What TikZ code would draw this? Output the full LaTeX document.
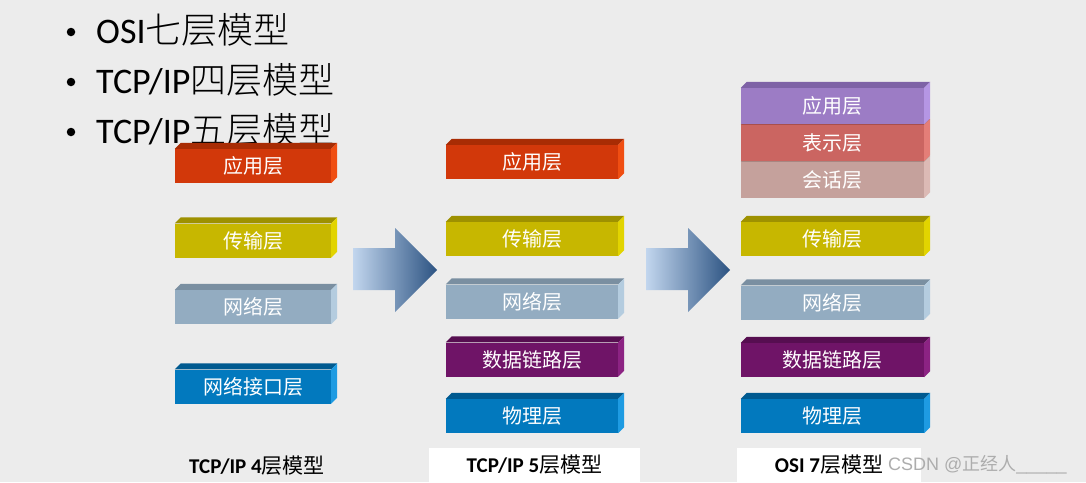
\documentclass[tikz,border=0pt]{standalone}
\usepackage{fontspec}
\setmainfont{Carlito}
\newfontfamily\cjk{Noto Sans CJK SC}
\newfontfamily\cjkl{Noto Sans CJK SC Light}
\newfontfamily\wmfont{Liberation Sans}
\definecolor{bg}{HTML}{ECECEC}
\definecolor{appF}{HTML}{D2380A}\definecolor{appT}{HTML}{A82C04}\definecolor{appS}{HTML}{F04E12}
\definecolor{traF}{HTML}{C7B700}\definecolor{traT}{HTML}{9E9100}\definecolor{traS}{HTML}{E2D400}
\definecolor{netF}{HTML}{93ACC1}\definecolor{netT}{HTML}{7A8FA1}\definecolor{netS}{HTML}{B4CCDF}
\definecolor{phyF}{HTML}{0279BE}\definecolor{phyT}{HTML}{005A90}\definecolor{phyS}{HTML}{1E9BE2}
\definecolor{dlkF}{HTML}{6F1467}\definecolor{dlkT}{HTML}{560E50}\definecolor{dlkS}{HTML}{8C2383}
\definecolor{oapF}{HTML}{9C7CC5}\definecolor{oapT}{HTML}{7E62A6}\definecolor{oapS}{HTML}{B596E4}
\definecolor{preF}{HTML}{CB6561}\definecolor{preT}{HTML}{A84F4C}\definecolor{preS}{HTML}{E47E78}
\definecolor{sesF}{HTML}{C5A19C}\definecolor{sesT}{HTML}{A88681}\definecolor{sesS}{HTML}{DCBAB5}
\definecolor{arrL}{HTML}{C2D6EE}\definecolor{arrR}{HTML}{2C5382}
\tikzset{
  layerbox/.style={rectangle, inner sep=0pt, minimum height=34pt, text=white,
    font=\cjk\fontsize{20}{20}\selectfont},
  bullettext/.style={anchor=west, inner sep=0pt, text=black, font=\fontsize{36}{36}\selectfont},
  bulletdot/.style={circle, fill=black, inner sep=0pt, minimum size=8.5pt},
  caption/.style={inner sep=0pt, text=black, font=\fontsize{21}{21}\selectfont},
  capbox/.style={caption, fill=white, minimum height=34pt},
  bigarrow/.style={left color=arrL, right color=arrR}
}
\newcommand\lay[6]{%
  \node[layerbox, fill=#5F, minimum width=#4pt] (#1) at (#2,#3) {#6};
  \fill[#5T] (#1.north west) -- ++(6,-6) -- ([shift={(6,-6)}]#1.north east) -- (#1.north east) -- cycle;
  \fill[#5S] (#1.north east) -- ++(6,-6) -- ([shift={(6,-6)}]#1.south east) -- (#1.south east) -- cycle;
}
\newcommand\zh[1]{{\cjk #1}}
\newcommand\zhl[1]{{\cjkl #1}}
\begin{document}
\begin{tikzpicture}[x=1pt,y=-1pt]
\fill[bg] (0,0) rectangle (1086,482);
\useasboundingbox (0,0) rectangle (1086,482);
% bullet list
\node[bulletdot] (d1) at (71,32) {};
\node[bulletdot] (d2) at (71,82) {};
\node[bulletdot] (d3) at (71,132) {};
\node[bullettext] (b1) at (96,30) {OSI\zhl{七层模型}};
\node[bullettext] (b2) at (96,80) {TCP/IP\zhl{四层模型}};
\node[bullettext] (b3) at (96,130) {TCP/IP\zhl{五层模型}};
% column 1: TCP/IP 4 layers
\lay{a1}{253}{166}{156}{app}{应用层}
\lay{a2}{253}{240.5}{156}{tra}{传输层}
\lay{a3}{253}{307}{156}{net}{网络层}
\lay{a4}{253}{386.5}{156}{phy}{网络接口层}
% column 2: TCP/IP 5 layers
\lay{b1l}{532}{162}{172}{app}{应用层}
\lay{b2l}{532}{239}{172}{tra}{传输层}
\lay{b3l}{532}{301.5}{172}{net}{网络层}
\lay{b4l}{532}{359.5}{172}{dlk}{数据链路层}
\lay{b5l}{532}{416}{172}{phy}{物理层}
% column 3: OSI 7 layers
\tikzset{layerbox/.append style={minimum height=36pt}}
\lay{c3}{832.5}{180}{183}{ses}{会话层}
\lay{c2}{832.5}{143}{183}{pre}{表示层}
\lay{c1}{832.5}{106}{183}{oap}{应用层}
\tikzset{layerbox/.append style={minimum height=34pt}}
\lay{c4}{832.5}{239}{183}{tra}{传输层}
\lay{c5}{832.5}{302.5}{183}{net}{网络层}
\lay{c6}{832.5}{360}{183}{dlk}{数据链路层}
\lay{c7}{832.5}{416}{183}{phy}{物理层}
% big arrows
\shade[bigarrow] (353,248) -- (395,248) -- (395,228) -- (437,270) -- (395,312) -- (395,290) -- (353,290) -- cycle;
\shade[bigarrow] (646,248) -- (688,248) -- (688,228) -- (730,270) -- (688,312) -- (688,290) -- (646,290) -- cycle;
% captions
\node[caption] (k1) at (257,466) {\textbf{TCP/IP 4}\zh{层模型}};
\node[capbox, minimum width=211pt] (k2) at (534.5,465) {\textbf{TCP/IP 5}\zh{层模型}};
\node[capbox, minimum width=184pt] (k3) at (829,465) {\textbf{OSI 7}\zh{层模型}};
\node[anchor=west, inner sep=0pt, text=black!32, font=\wmfont\fontsize{18}{18}\selectfont] (wm) at (888,465) {CSDN @\zh{正经人}\_\_\_\_\_};
\end{tikzpicture}
\end{document}
